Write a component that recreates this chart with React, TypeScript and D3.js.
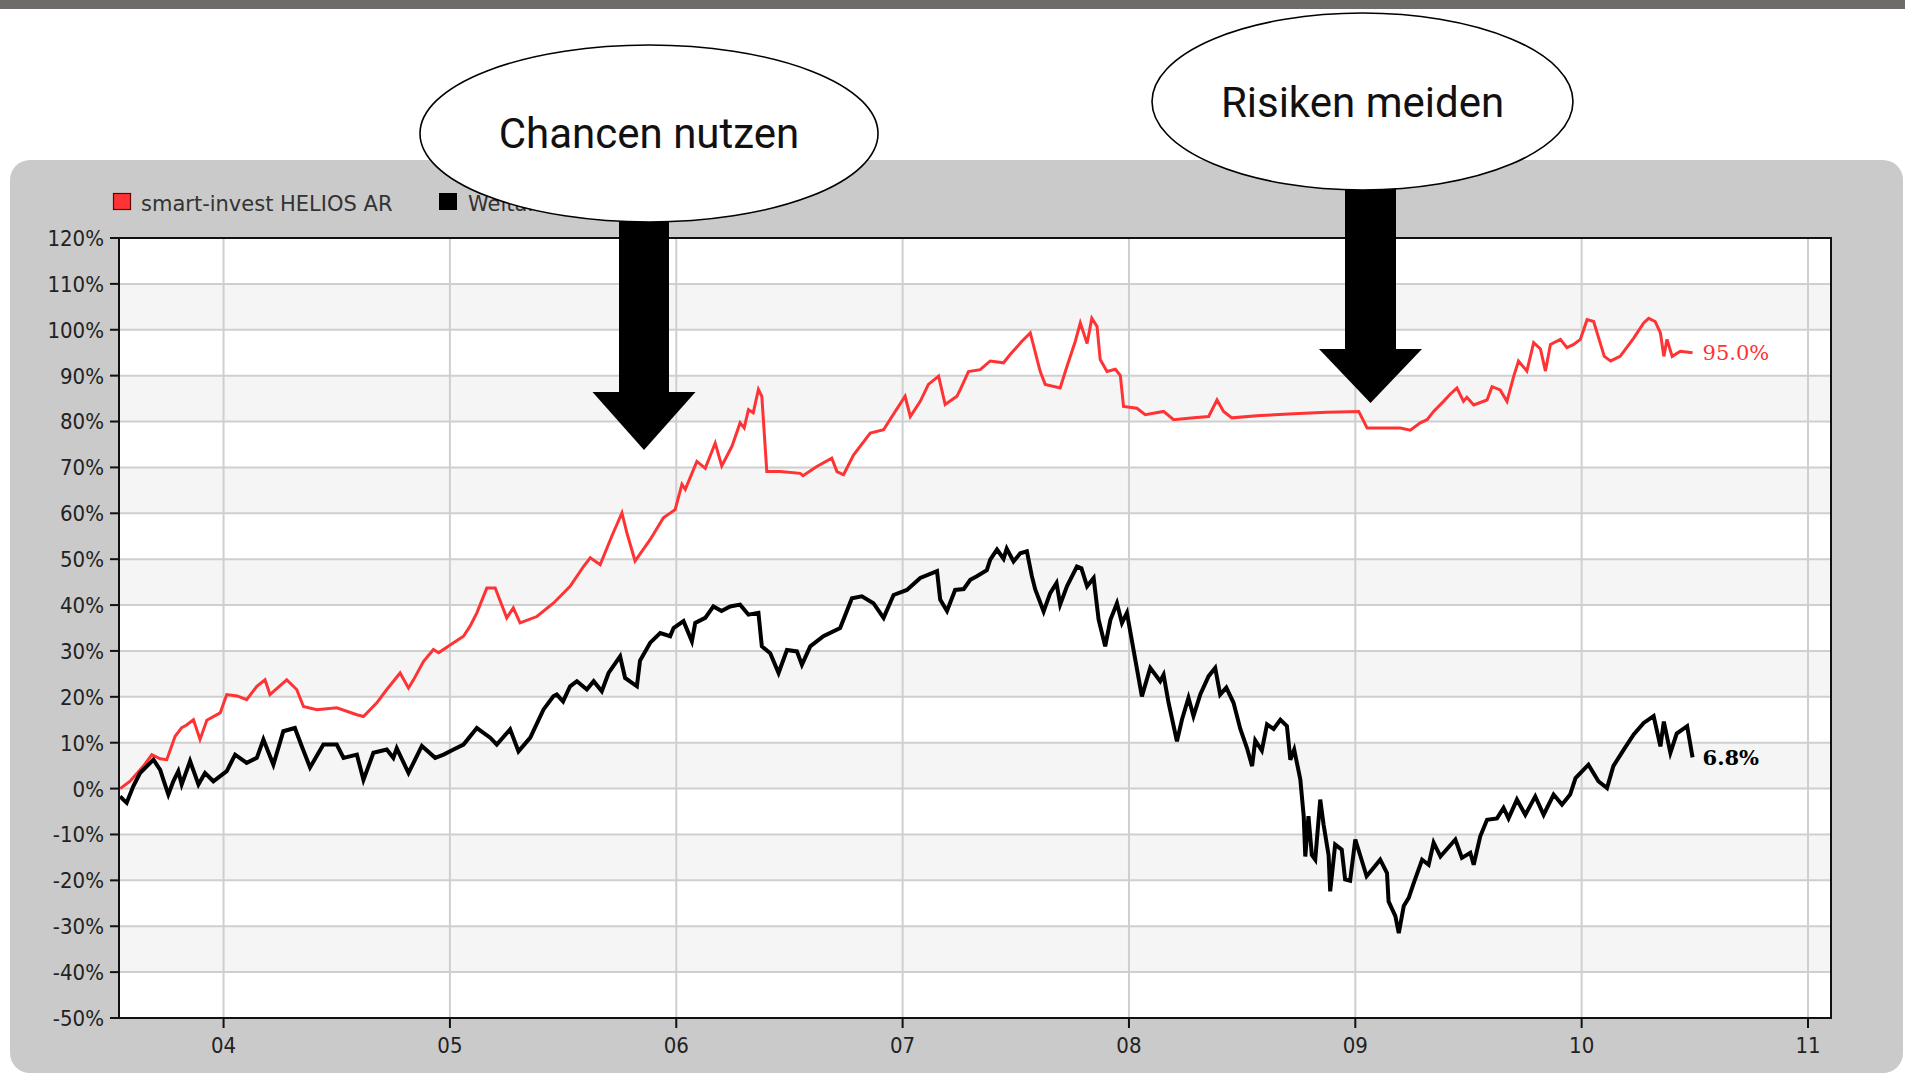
import React from "react";
import * as d3 from "d3";

// ---------- DATA ----------
const xTickYears = [2004, 2005, 2006, 2007, 2008, 2009, 2010, 2011];
const xTickLabels = ["04", "05", "06", "07", "08", "09", "10", "11"];
const yTicks = [-50, -40, -30, -20, -10, 0, 10, 20, 30, 40, 50, 60, 70, 80, 90, 100, 110, 120];
const yTickLabels = ["-50%", "-40%", "-30%", "-20%", "-10%", "0%", "10%", "20%", "30%", "40%", "50%", "60%", "70%", "80%", "90%", "100%", "110%", "120%"];

const seriesNames = ["smart-invest HELIOS AR", "Weltaktien"];
const endLabels = ["95.0%", "6.8%"];
const annotationTexts = ["Chancen nutzen", "Risiken meiden"];

const redYears = [
  2003.543, 2003.587, 2003.646, 2003.683, 2003.72, 2003.749, 2003.786, 2003.815, 2003.835, 2003.867,
  2003.896, 2003.926, 2003.985, 2004.014, 2004.06, 2004.102, 2004.147, 2004.183, 2004.205, 2004.279,
  2004.323, 2004.353, 2004.412, 2004.5, 2004.589, 2004.618, 2004.677, 2004.721, 2004.78, 2004.817,
  2004.839, 2004.883, 2004.927, 2004.95, 2005.016, 2005.06, 2005.089, 2005.119, 2005.163, 2005.2,
  2005.251, 2005.28, 2005.31, 2005.384, 2005.457, 2005.531, 2005.59, 2005.62, 2005.664, 2005.715,
  2005.76, 2005.782, 2005.818, 2005.885, 2005.943, 2005.995, 2006.025, 2006.04, 2006.091, 2006.128,
  2006.172, 2006.201, 2006.246, 2006.282, 2006.3, 2006.319, 2006.34, 2006.363, 2006.378, 2006.4,
  2006.459, 2006.547, 2006.56, 2006.621, 2006.687, 2006.71, 2006.739, 2006.783, 2006.857, 2006.916,
  2006.953, 2007.011, 2007.034, 2007.078, 2007.114, 2007.159, 2007.188, 2007.24, 2007.255, 2007.291,
  2007.343, 2007.387, 2007.446, 2007.475, 2007.527, 2007.564, 2007.608, 2007.63, 2007.696, 2007.726,
  2007.763, 2007.785, 2007.815, 2007.836, 2007.859, 2007.873, 2007.903, 2007.94, 2007.962, 2007.976,
  2008.035, 2008.072, 2008.153, 2008.197, 2008.286, 2008.352, 2008.389, 2008.418, 2008.455, 2008.58,
  2008.727, 2008.875, 2009.015, 2009.052, 2009.169, 2009.199, 2009.243, 2009.287, 2009.317, 2009.346,
  2009.39, 2009.42, 2009.449, 2009.478, 2009.493, 2009.523, 2009.582, 2009.604, 2009.64, 2009.67,
  2009.7, 2009.721, 2009.758, 2009.788, 2009.818, 2009.84, 2009.862, 2009.906, 2009.935, 2009.965,
  2009.994, 2010.024, 2010.053, 2010.077, 2010.1, 2010.128, 2010.17, 2010.23, 2010.274, 2010.296,
  2010.325, 2010.348, 2010.363, 2010.377, 2010.4, 2010.436, 2010.49,
];
const redValues = [
  0, 1.6, 4.9, 7.4, 6.5, 6.3, 11.4, 13.3, 13.8, 15,
  10.7, 14.9, 16.5, 20.5, 20.2, 19.4, 22.3, 23.7, 20.5, 23.7,
  21.6, 17.9, 17.2, 17.6, 16.1, 15.7, 18.7, 21.6, 25.2, 21.9,
  23.7, 27.7, 30.3, 29.6, 31.8, 33.2, 35.4, 38.3, 43.7, 43.7,
  37.2, 39.4, 36.1, 37.5, 40.4, 44.1, 48.4, 50.3, 48.8, 55,
  60.1, 55.7, 49.6, 54.3, 59, 60.8, 66.3, 65.2, 71.3, 69.8,
  75.3, 70.3, 74.6, 79.7, 78.6, 82.6, 81.9, 87, 85.5, 69.1,
  69.1, 68.7, 68.2, 70.2, 72, 69.1, 68.4, 72.7, 77.5, 78.2,
  81.1, 85.5, 81.1, 84.4, 88.1, 89.9, 83.7, 85.5, 87, 90.9,
  91.3, 93.2, 92.8, 94.6, 97.5, 99.3, 90.9, 88.1, 87.3, 92,
  97.5, 101.5, 97, 102.5, 100.7, 93.5, 90.9, 91.4, 90, 83.3,
  82.9, 81.5, 82.2, 80.4, 80.8, 81.1, 84.7, 82.2, 80.8, 81.3,
  81.7, 82, 82.2, 78.6, 78.6, 78.6, 78.1, 79.7, 80.4, 82.2,
  84.4, 86, 87.3, 84.4, 85.3, 83.6, 84.7, 87.6, 86.9, 84.4,
  89.9, 93.2, 91, 97.2, 95.8, 91, 96.8, 97.9, 96.1, 96.8,
  97.9, 102.2, 101.8, 97.9, 94.2, 93.2, 94.2, 98.2, 101.5, 102.5,
  101.8, 99.3, 94.2, 97.9, 94.2, 95.3, 95.0,
];

const blackYears = [
  2003.543, 2003.557, 2003.572, 2003.601, 2003.631, 2003.69, 2003.72, 2003.735, 2003.756, 2003.778,
  2003.8, 2003.815, 2003.852, 2003.889, 2003.918, 2003.955, 2004.014, 2004.051, 2004.102, 2004.147,
  2004.176, 2004.22, 2004.264, 2004.315, 2004.345, 2004.382, 2004.441, 2004.5, 2004.53, 2004.589,
  2004.618, 2004.662, 2004.721, 2004.75, 2004.765, 2004.817, 2004.876, 2004.935, 2004.972, 2005.016,
  2005.06, 2005.119, 2005.178, 2005.207, 2005.266, 2005.303, 2005.355, 2005.413, 2005.457, 2005.472,
  2005.5, 2005.531, 2005.561, 2005.605, 2005.635, 2005.671, 2005.701, 2005.752, 2005.774, 2005.826,
  2005.84, 2005.885, 2005.929, 2005.973, 2005.988, 2006.032, 2006.069, 2006.084, 2006.128, 2006.164,
  2006.2, 2006.238, 2006.282, 2006.319, 2006.363, 2006.378, 2006.415, 2006.452, 2006.489, 2006.533,
  2006.555, 2006.592, 2006.65, 2006.724, 2006.776, 2006.82, 2006.871, 2006.916, 2006.96, 2007.019,
  2007.078, 2007.152, 2007.166, 2007.196, 2007.232, 2007.27, 2007.299, 2007.328, 2007.372, 2007.387,
  2007.417, 2007.446, 2007.46, 2007.49, 2007.52, 2007.549, 2007.571, 2007.586, 2007.623, 2007.652,
  2007.68, 2007.696, 2007.726, 2007.77, 2007.79, 2007.815, 2007.844, 2007.866, 2007.895, 2007.918,
  2007.947, 2007.969, 2007.991, 2008.02, 2008.057, 2008.094, 2008.138, 2008.153, 2008.175, 2008.212,
  2008.234, 2008.263, 2008.285, 2008.315, 2008.352, 2008.381, 2008.403, 2008.43, 2008.462, 2008.492,
  2008.521, 2008.544, 2008.558, 2008.587, 2008.61, 2008.639, 2008.669, 2008.698, 2008.713, 2008.73,
  2008.757, 2008.772, 2008.779, 2008.793, 2008.808, 2008.823, 2008.845, 2008.86, 2008.882, 2008.889,
  2008.911, 2008.94, 2008.955, 2008.977, 2009.0, 2009.05, 2009.08, 2009.11, 2009.14, 2009.147,
  2009.177, 2009.192, 2009.214, 2009.236, 2009.258, 2009.295, 2009.324, 2009.346, 2009.376, 2009.442,
  2009.471, 2009.508, 2009.523, 2009.552, 2009.582, 2009.626, 2009.655, 2009.677, 2009.714, 2009.751,
  2009.795, 2009.832, 2009.876, 2009.913, 2009.949, 2009.973, 2010.03, 2010.074, 2010.112, 2010.14,
  2010.186, 2010.23, 2010.274, 2010.318, 2010.348, 2010.363, 2010.392, 2010.42, 2010.466, 2010.49,
];
const blackValues = [
  -1.7, -2.4, -3.1, 0.5, 3.4, 6.3, 4.1, 1.8, -1.3, 1.6,
  3.8, 0.9, 6.0, 0.9, 3.4, 1.6, 3.8, 7.4, 5.6, 6.7,
  10.7, 5.2, 12.5, 13.2, 9.3, 4.6, 9.6, 9.6, 6.7, 7.4,
  1.9, 7.8, 8.5, 6.7, 8.8, 3.4, 9.3, 6.7, 7.4, 8.5,
  9.6, 13.2, 11.1, 9.6, 12.9, 8.1, 11.1, 17.2, 20.1, 20.5,
  19, 22.3, 23.4, 21.6, 23.4, 21.2, 25.2, 28.8, 24.1, 22.3,
  27.9, 31.8, 33.9, 33.2, 35, 36.5, 32.1, 36.1, 37.2, 39.7,
  38.7, 39.7, 40.1, 37.9, 38.3, 31, 29.5, 25.2, 30.2, 29.9,
  27, 31, 33.2, 35, 41.5, 41.9, 40.4, 37.2, 42.2, 43.3,
  45.9, 47.4, 41.2, 38.7, 43.3, 43.5, 45.5, 46.3, 47.6, 49.9,
  52.1, 50.1, 52.3, 49.5, 51.3, 51.7, 46.3, 43.4, 38.6, 42.6,
  44.8, 40.1, 44.1, 48.4, 48, 44.1, 45.9, 36.8, 31, 36.8,
  40.4, 36.1, 38.3, 30.3, 20.1, 26.3, 23.4, 24.8, 18.7, 10.3,
  15, 19.8, 15.8, 20.5, 24.5, 26.3, 20.5, 22, 18.7, 13,
  8.9, 4.9, 10.5, 8.3, 14, 13, 15, 13.6, 6.3, 8.5,
  2, -6, -14.8, -6, -14.5, -15.5, -2.4, -7.9, -14.5, -22.4,
  -12.2, -13.3, -19.8, -20.1, -11.1, -19.1, -17.3, -15.5, -18.4, -24.6,
  -27.8, -31.5, -25.6, -23.8, -20.6, -15.5, -16.6, -11.8, -14.8, -11.1,
  -15.1, -14, -16.6, -10.4, -6.8, -6.5, -4.2, -6.5, -2.4, -5.7,
  -1.7, -5.7, -1.3, -3.5, -1.3, 2.3, 5.2, 1.6, 0.1, 4.9,
  8.5, 11.8, 14.3, 15.8, 9.2, 14.6, 7.8, 12, 13.6, 6.8,
];

// ---------- LAYOUT / STYLE ----------
const W = 1905;
const H = 1075;
const PLOT = { left: 119, right: 1831, top: 238, bottom: 1018 };
const RED = "#ff3333";
const BLACK = "#000000";
const GRID = "#cfcfcf";
const BAND = "#f5f5f5";
const PANEL = "#cacaca";
const SANS_C = "'DejaVu Sans Condensed','DejaVu Sans',sans-serif";
const SANS = "'DejaVu Sans',sans-serif";

export default function App() {
  const x = d3.scaleLinear().domain([2003.538, 2011.1016]).range([PLOT.left, PLOT.right]);
  const y = d3.scaleLinear().domain([-50, 120]).range([PLOT.bottom, PLOT.top]);

  const redData = redYears.map((t, i) => [t, redValues[i]] as [number, number]);
  const blackData = blackYears.map((t, i) => [t, blackValues[i]] as [number, number]);
  const line = d3
    .line<[number, number]>()
    .x((d) => x(d[0]))
    .y((d) => y(d[1]));

  const bands = yTicks.slice(0, -1).map((v, i) => ({ lo: v, hi: yTicks[i + 1], shaded: i % 2 === 1 }));

  const lastRed = redData[redData.length - 1];
  const lastBlack = blackData[blackData.length - 1];

  // annotations (layout)
  const ellipses = [
    { cx: 649, cy: 133.5, rx: 229, ry: 88.5, ty: 148, text: annotationTexts[0] },
    { cx: 1362.5, cy: 101.5, rx: 210.5, ry: 88.5, ty: 117, text: annotationTexts[1] },
  ];
  const arrows = [
    { cx: 644, top: 200, headTop: 392, tip: 450, shaftW: 50, headW: 103 },
    { cx: 1370.5, top: 170, headTop: 349, tip: 403, shaftW: 51, headW: 103 },
  ];

  return (
    <svg
      width={W}
      height={H}
      style={{ position: "absolute", left: 0, top: 0, display: "block", background: "#fff" }}
    >
      <rect x={0} y={0} width={W} height={9} fill="#6e6c68" />
      <rect x={10} y={160} width={1893} height={913} rx={20} ry={20} fill={PANEL} />

      {/* plot background bands */}
      <rect x={PLOT.left} y={PLOT.top} width={PLOT.right - PLOT.left} height={PLOT.bottom - PLOT.top} fill="#fff" />
      {bands
        .filter((b) => b.shaded)
        .map((b, i) => (
          <rect
            key={"b" + i}
            x={PLOT.left}
            y={y(b.hi)}
            width={PLOT.right - PLOT.left}
            height={y(b.lo) - y(b.hi)}
            fill={BAND}
          />
        ))}

      {/* grid */}
      {yTicks.map((v) => (
        <line key={"gy" + v} x1={PLOT.left} x2={PLOT.right} y1={y(v)} y2={y(v)} stroke={GRID} strokeWidth={2} />
      ))}
      {xTickYears.map((t) => (
        <line key={"gx" + t} x1={x(t)} x2={x(t)} y1={PLOT.top} y2={PLOT.bottom} stroke={GRID} strokeWidth={2} />
      ))}

      {/* series */}
      <path d={line(redData) || ""} fill="none" stroke={RED} strokeWidth={3} strokeLinejoin="miter" />
      <path d={line(blackData) || ""} fill="none" stroke={BLACK} strokeWidth={4} strokeLinejoin="miter" />

      {/* frame */}
      <rect
        x={PLOT.left}
        y={PLOT.top}
        width={PLOT.right - PLOT.left}
        height={PLOT.bottom - PLOT.top}
        fill="none"
        stroke="#111"
        strokeWidth={2}
      />

      {/* y axis ticks + labels */}
      {yTicks.map((v, i) => (
        <g key={"yt" + v}>
          <line x1={PLOT.left - 9} x2={PLOT.left} y1={y(v)} y2={y(v)} stroke="#111" strokeWidth={2} />
          <text
            x={PLOT.left - 15}
            y={y(v)}
            dy="0.36em"
            textAnchor="end"
            fontSize={22}
            fill="#222"
            style={{ fontFamily: SANS_C, fontStretch: "condensed" }}
          >
            {yTickLabels[i]}
          </text>
        </g>
      ))}

      {/* x axis ticks + labels */}
      {xTickYears.map((t, i) => (
        <g key={"xt" + t}>
          <line x1={x(t)} x2={x(t)} y1={PLOT.bottom} y2={PLOT.bottom + 10} stroke="#111" strokeWidth={2} />
          <text
            x={x(t)}
            y={PLOT.bottom + 35}
            textAnchor="middle"
            fontSize={22}
            fill="#222"
            style={{ fontFamily: SANS_C, fontStretch: "condensed" }}
          >
            {xTickLabels[i]}
          </text>
        </g>
      ))}

      {/* end labels */}
      <text
        x={x(lastRed[0]) + 10}
        y={y(lastRed[1])}
        dy="0.36em"
        fontSize={21}
        fill={RED}
        style={{ fontFamily: "'DejaVu Serif',serif" }}
      >
        {endLabels[0]}
      </text>
      <text
        x={x(lastBlack[0]) + 10}
        y={y(lastBlack[1])}
        dy="0.36em"
        fontSize={21}
        fontWeight="bold"
        fill={BLACK}
        style={{ fontFamily: "'DejaVu Serif',serif" }}
      >
        {endLabels[1]}
      </text>

      {/* legend */}
      <rect x={113.5} y={193.5} width={17} height={16} fill={RED} stroke="#600" strokeWidth={1.2} />
      <text x={141} y={211} fontSize={21} fill="#333" style={{ fontFamily: SANS }}>
        {seriesNames[0]}
      </text>
      <rect x={439.5} y={193.5} width={17} height={16} fill={BLACK} stroke="#000" strokeWidth={1} />
      <text x={468} y={211} fontSize={21} fill="#333" style={{ fontFamily: SANS }}>
        {seriesNames[1]}
      </text>

      {/* arrows */}
      {arrows.map((a, i) => (
        <g key={"ar" + i}>
          <rect x={a.cx - a.shaftW / 2} y={a.top} width={a.shaftW} height={a.headTop - a.top + 1} fill="#000" />
          <path
            d={`M${a.cx - a.headW / 2},${a.headTop} L${a.cx + a.headW / 2},${a.headTop} L${a.cx},${a.tip} Z`}
            fill="#000"
          />
        </g>
      ))}

      {/* ellipses */}
      {ellipses.map((e, i) => (
        <g key={"el" + i}>
          <ellipse cx={e.cx} cy={e.cy} rx={e.rx} ry={e.ry} fill="#fff" stroke="#000" strokeWidth={1.6} />
          <text
            x={e.cx}
            y={e.ty}
            textAnchor="middle"
            fontSize={42}
            fill="#111"
            style={{ fontFamily: "Roboto, 'Open Sans', sans-serif" }}
          >
            {e.text}
          </text>
        </g>
      ))}
    </svg>
  );
}
